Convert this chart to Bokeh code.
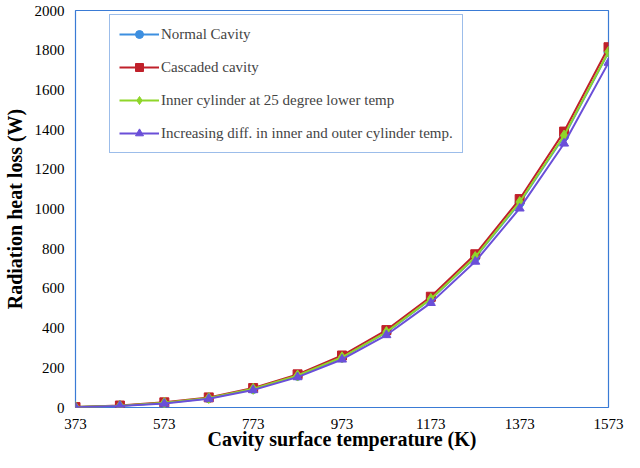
from bokeh.plotting import figure
from bokeh.embed import file_html
from bokeh.resources import INLINE
from bokeh.models import Legend, LegendItem, FixedTicker, Range1d

temps = [373, 473, 573, 673, 773, 873, 973, 1073, 1173, 1273, 1373, 1473, 1573]
normal = [2, 9, 23, 47, 93, 160, 252, 378, 545, 755, 1030, 1365, 1790]
cascaded = [2, 10, 26, 51, 98, 167, 262, 390, 558, 772, 1050, 1390, 1815]
inner = [2, 9, 24, 48, 94, 161, 253, 380, 547, 758, 1035, 1370, 1792]
increasing = [1, 8, 20, 44, 88, 153, 242, 365, 527, 735, 1003, 1330, 1737]

p = figure(width=624, height=452, output_backend="svg", toolbar_location=None,
           x_range=Range1d(373, 1573), y_range=Range1d(0, 2000),
           min_border_left=58, min_border_right=16, min_border_top=10, min_border_bottom=42)
p.xgrid.visible = False
p.ygrid.visible = False
p.outline_line_color = "#3a7bd5"
p.outline_line_width = 1.2
p.background_fill_color = "white"

font = "Liberation Serif"
p.xaxis.ticker = FixedTicker(ticks=[373, 573, 773, 973, 1173, 1373, 1573])
p.yaxis.ticker = FixedTicker(ticks=list(range(0, 2001, 200)))
for ax in (p.xaxis[0], p.yaxis[0]):
    ax.axis_line_color = None
    ax.major_tick_line_color = None
    ax.minor_tick_line_color = None
    ax.major_label_text_font = font
    ax.major_label_text_font_size = "15px"
    ax.major_label_text_color = "black"
    ax.axis_label_text_font = font
    ax.axis_label_text_font_style = "bold"
    ax.axis_label_text_font_size = "20px"
    ax.axis_label_text_color = "black"
p.xaxis.axis_label = "Cavity surface temperature (K)"
p.yaxis.axis_label = "Radiation heat loss (W)"
p.xaxis.axis_label_standoff = -4
p.yaxis.axis_label_standoff = 6

series = [
    ("Normal Cavity", normal, "#3d8fe0", "circle"),
    ("Cascaded cavity", cascaded, "#c0202a", "square"),
    ("Inner cylinder at 25 degree lower temp", inner, "#8fd62a", "diamond"),
    ("Increasing diff. in inner and outer cylinder temp.", increasing, "#6a4fd8", "triangle"),
]
items = []
for name, ys, col, mk in series:
    l = p.line(temps, ys, line_color=col, line_width=2)
    s = p.scatter(temps, ys, marker=mk, size=9 if mk != "diamond" else 11, fill_color=col, line_color=col)
    items.append(LegendItem(label=name, renderers=[l, s]))

leg = Legend(items=items, location=(34, 254), label_text_font=font, label_text_font_size="15px",
             border_line_color="#3a7bd5", border_line_width=1, spacing=13, padding=9,
             glyph_width=40, label_standoff=2)
p.add_layout(leg, "center")

open("out.html", "w").write(file_html(p, INLINE))
